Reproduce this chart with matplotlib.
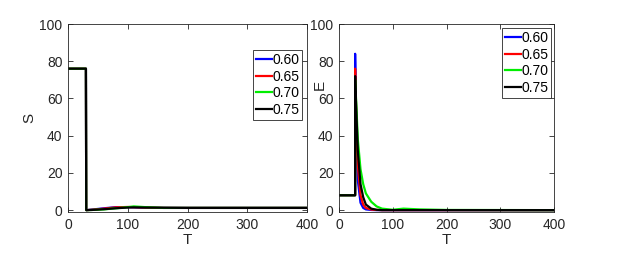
import numpy as np
import matplotlib.pyplot as plt

plt.rcParams['font.family'] = ['Liberation Sans', 'DejaVu Sans']

labels = ['0.60', '0.65', '0.70', '0.75']
colors = ['#0000ff', '#ff0000', '#00ee00', '#000000']

# S(T)
t_s = [0, 30, 30.5, 40, 60, 80, 100, 110, 130, 160, 200, 400]
s_060 = [76, 76, 0, 0.3, 1.0, 1.6, 1.6, 1.5, 1.3, 1.2, 1.2, 1.2]
s_065 = [76, 76, 0, 0.2, 0.8, 1.5, 1.7, 1.6, 1.4, 1.2, 1.2, 1.2]
s_070 = [76, 76, 0, 0.1, 0.4, 1.0, 1.6, 2.0, 1.6, 1.2, 1.2, 1.2]
s_075 = [76, 76, 0, 0.1, 0.5, 1.0, 1.4, 1.5, 1.4, 1.3, 1.2, 1.2]

# E(T)
t_e = [0, 30, 30, 32, 35, 40, 45, 50, 60, 70, 80, 100, 120, 150, 200, 400]
e_060 = [8, 8, 84, 45, 16, 4, 1.2, 0.4, 0.1, 0, 0, 0, 0, 0, 0, 0]
e_065 = [8, 8, 76, 52, 24, 8, 3, 1.2, 0.3, 0.1, 0, 0, 0, 0, 0, 0]
e_070 = [8, 8, 70, 58, 38, 22, 14, 9, 4.5, 2, 0.8, 0.2, 0.8, 0.4, 0.1, 0]
e_075 = [8, 8, 72, 55, 32, 14, 7, 3, 0.8, 0.2, 0, 0, 0, 0, 0, 0]

s_all = [s_060, s_065, s_070, s_075]
e_all = [e_060, e_065, e_070, e_075]

fig = plt.figure(figsize=(6.24, 2.73), dpi=100)
ax1 = fig.add_axes([68/624, 1 - 212/273, 239/624, 188/273])
ax2 = fig.add_axes([339/624, 1 - 212/273, 215/624, 188/273])

for ax, t, series in [(ax1, t_s, s_all), (ax2, t_e, e_all)]:
    for y, c, lab in zip(series, colors, labels):
        ax.plot(t, y, color=c, lw=1.6, label=lab)
    ax.set_xlim(0, 400)
    ax.set_ylim(-1, 100)
    ax.set_xticks([0, 100, 200, 300, 400])
    ax.set_yticks([0, 20, 40, 60, 80, 100])
    ax.tick_params(direction='in', top=True, right=True, length=3.5,
                   width=0.6, labelsize=10, colors='#262626', pad=4)
    for sp in ax.spines.values():
        sp.set_color('#262626')
        sp.set_linewidth(0.6)
    ax.set_xlabel('T', fontsize=11, color='#262626', labelpad=1)
ax1.set_ylabel('S', fontsize=11, color='#262626', labelpad=2)
ax2.set_ylabel('E', fontsize=11, color='#262626')
ax2.yaxis.set_label_coords(-0.056, 0.675)

leg_kw = dict(fontsize=10, handlelength=1.1, handletextpad=0.05,
              borderpad=0.2, labelspacing=0.2, fancybox=False,
              framealpha=1, borderaxespad=0)
leg1 = ax1.legend(loc='upper right', bbox_to_anchor=(302/624, 1 - 50/273),
                  bbox_transform=fig.transFigure, **leg_kw)
leg2 = ax2.legend(loc='upper right', bbox_to_anchor=(551/624, 1 - 28/273),
                  bbox_transform=fig.transFigure, **leg_kw)
for leg in (leg1, leg2):
    leg.get_frame().set_edgecolor('#262626')
    leg.get_frame().set_linewidth(0.6)

fig.savefig('out.png', dpi=100)
